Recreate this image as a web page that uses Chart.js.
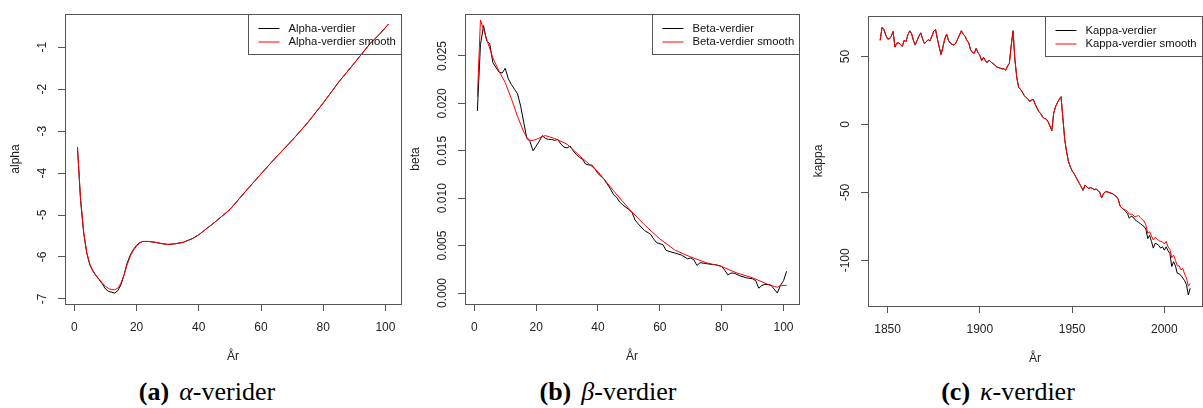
<!DOCTYPE html>
<html lang="no">
<head>
<meta charset="UTF-8">
<title>Lee-Carter parametre</title>
<script src="https://cdn.jsdelivr.net/npm/chart.js"></script>
<style>
  html, body { margin: 0; padding: 0; background: #fff; }
  body { width: 1203px; height: 408px; position: relative; overflow: hidden; }
  canvas { position: absolute; }
  .cap { position: absolute; top: 379px; width: 300px; text-align: center;
         font-family: "Liberation Serif", "DejaVu Serif", serif; font-size: 26px; line-height: 26px; color: #000; }
  .cap b { margin-right: 10px; }
</style>
</head>
<body>
<canvas id="cA" width="410" height="372" style="left:0;top:0"></canvas>
<canvas id="cB" width="409" height="372" style="left:400px;top:0"></canvas>
<canvas id="cC" width="400" height="372" style="left:803px;top:2px"></canvas>
<div class="cap" style="left:57px"><b>(a)</b><i>α</i>-verider</div>
<div class="cap" style="left:458px"><b>(b)</b><i>β</i>-verdier</div>
<div class="cap" style="left:858px"><b>(c)</b><i>κ</i>-verdier</div>

<script>
// ---- alpha ----
const alphaAge = [1,2,3,4,5,6,7,8,9,10,11,12,13,14,15,16,17,18,19,20,21,22,24,26,28,30,32,35,38,40,45,50,55,60,65,70,75,80,85,90,95,98,101];
const alphaVals = [-3.38,-4.65,-5.43,-5.91,-6.19,-6.34,-6.45,-6.54,-6.64,-6.76,-6.82,-6.84,-6.86,-6.80,-6.66,-6.42,-6.14,-5.95,-5.82,-5.72,-5.66,-5.63,-5.63,-5.65,-5.68,-5.70,-5.69,-5.65,-5.56,-5.47,-5.18,-4.87,-4.44,-4.02,-3.61,-3.22,-2.80,-2.33,-1.83,-1.38,-0.92,-0.70,-0.45];
const alphaSmooth = [-3.38,-4.60,-5.40,-5.90,-6.17,-6.33,-6.44,-6.53,-6.62,-6.70,-6.75,-6.78,-6.78,-6.74,-6.62,-6.42,-6.18,-5.98,-5.84,-5.74,-5.67,-5.63,-5.63,-5.65,-5.68,-5.70,-5.69,-5.65,-5.56,-5.47,-5.18,-4.87,-4.44,-4.02,-3.61,-3.22,-2.80,-2.33,-1.83,-1.38,-0.92,-0.70,-0.45];

// ---- beta ----
const betaAge = [1,2,3,4,5,6,7,8,9,10,11,12,13,14,15,16,17,18,19,20,21,22,23,24,25,26,27,28,29,30,31,32,33,34,35,36,37,38,39,40,42,44,45,46,47,48,50,51,52,53,55,57,58,59,61,62,63,65,67,69,70,71,72,73,75,77,78,80,81,82,83,84,86,88,90,91,92,93,94,95,96,97,98,99,100,101];
const betaVals = [0.0192,0.0262,0.0282,0.0266,0.0263,0.0243,0.0238,0.0233,0.0232,0.0237,0.0226,0.0220,0.0215,0.0210,0.0197,0.0180,0.0163,0.0160,0.0150,0.0155,0.0160,0.0166,0.0163,0.0162,0.0162,0.0161,0.0162,0.0157,0.0154,0.0153,0.0155,0.0150,0.0146,0.0143,0.0141,0.0136,0.0135,0.0135,0.0131,0.0126,0.0120,0.0110,0.0104,0.0101,0.0096,0.0093,0.0088,0.0085,0.0077,0.0073,0.0066,0.0062,0.0057,0.0053,0.0051,0.0045,0.0044,0.0042,0.0040,0.0036,0.0037,0.0035,0.0029,0.0032,0.0031,0.0030,0.0030,0.0028,0.0024,0.0019,0.0021,0.0021,0.0018,0.0016,0.0015,0.0013,0.0005,0.0008,0.0009,0.0009,0.0008,0.0004,0.0000,0.0008,0.0013,0.0023];
const betaSmoothAge = [1,2,3,4,6,8,10,12,14,16,17,18,19,20,22,23,26,30,35,40,45,50,55,60,65,70,75,80,85,90,95,97,98,99,101];
const betaSmooth = [0.0207,0.0288,0.0278,0.0268,0.0248,0.0234,0.0222,0.0205,0.0186,0.0170,0.0164,0.0161,0.0161,0.0162,0.0165,0.0166,0.0163,0.0157,0.0142,0.0128,0.0108,0.0089,0.0072,0.0057,0.0045,0.0038,0.0032,0.0028,0.0021,0.0016,0.0009,0.0007,0.0006,0.0008,0.0008];

// ---- kappa (1846-2014) ----
const kappaYears = Array.from({length: 169}, (_, i) => 1846 + i);
const kappaVals = [
  62,71.5,70,66,63,63,65,68.5,57,60,60,59,57.5,62,61,66,69,67,62,58.5,
  62,65,67.5,63,59.5,61,62.5,61.5,65,68.5,70,63,57,51.5,57,63,66.5,62,60,59,
  58.5,60,63,66,69,66.5,65,62,60,55,53,52.5,56,53,51,47,49.5,47,45.5,47.5,
  46,45,44,42.5,42,41.5,41,41,40,43,45,58,69,48,35,27.5,26,24,21.5,20,
  19,17,18,18.5,15,12,9.5,8,5.5,4.5,4,2,-1,-4.5,8,13,16,18.5,20.5,5,
  -11,-20,-27,-31,-34,-36,-38.5,-41,-43.5,-46,-48.5,-44.5,-46,-47,-46.5,-47,-48,-47.5,-48.5,-50,
  -54,-51,-49.5,-49.5,-50,-50.5,-51,-52,-53,-55,-60,-61.5,-62.5,-64,-65.5,-69,-67.5,-68,-70,-71,
  -72,-73,-74,-75,-77,-84,-81.5,-86,-91,-87.5,-88,-89,-91,-90,-92.5,-90,-93,-95,-104.5,-101,
  -104,-109.5,-110,-111,-113,-115,-118,-125.5,-120.5];
const kappaSmooth = [
  62,71.5,70,66,63,63,65,68.5,57,60,60,59,57.5,62,61,66,69,67,62,58.5,
  62,65,67.5,63,59.5,61,62.5,61.5,65,68.5,70,63,57,51.5,57,63,66.5,62,60,59,
  58.5,60,63,66,69,66.5,65,62,60,55,53,52.5,56,53,51,47,49.5,47,45.5,47.5,
  46,45,44,42.5,42,41.5,41,41,40,43,45,58,69,48,35,27.5,26,24,21.5,20,
  19,17,18,18.5,15,12,9.5,8,5.5,4.5,4,2,-1,-4.5,8,13,16,18.5,20.5,5,
  -11,-20,-27,-31,-34,-36,-38.5,-41,-43.5,-46,-48.5,-44.5,-46,-47,-46.5,-47,-48,-47.5,-48.5,-50,
  -54,-51,-49.5,-49.5,-50,-50.5,-51,-52,-53,-55,-60,-61.5,-62.5,-63,-64,-66,-66,-66.5,-68,-67.5,
  -67,-68.5,-70,-71,-74,-80,-79,-82,-85,-83,-84,-85.5,-86,-86.5,-88,-86,-90,-92,-98,-96,
  -100,-104,-104,-107,-106,-110,-113,-119,-117];

// tick values / labels
const ageTicks = [0, 20, 40, 60, 80, 100];
const yearTicks = [1850, 1900, 1950, 2000];
const alphaTicks = [-7, -6, -5, -4, -3, -2, -1];
const betaTicks = [0, 0.005, 0.010, 0.015, 0.020, 0.025];
const betaTickLabels = ['0.000', '0.005', '0.010', '0.015', '0.020', '0.025'];
const kappaTicks = [-100, -50, 0, 50];

const FONT = '"Liberation Sans", Arial, sans-serif';

const pts = (xs, ys) => xs.map((x, i) => ({x: x, y: ys[i]}));

// R-like frame, rotated y labels and boxed legend
const rStyle = {
  id: 'rStyle',
  afterDraw(chart, args, opts) {
    const {ctx, chartArea: a} = chart;
    ctx.save();
    ctx.strokeStyle = '#555';
    ctx.lineWidth = 1;
    const L = Math.round(a.left) + 0.5, T = Math.round(a.top) + 0.5;
    const R = Math.round(a.right) + 0.5, B = Math.round(a.bottom) + 0.5;
    ctx.strokeRect(L, T, R - L, B - T);

    const ys = chart.scales.y;
    ctx.fillStyle = '#222';
    ctx.font = '12px ' + FONT;
    ctx.textAlign = 'center';
    ctx.textBaseline = 'middle';
    ys.ticks.forEach((t, i) => {
      const py = ys.getPixelForValue(t.value);
      ctx.save();
      ctx.translate(a.left - 22, py);
      ctx.rotate(-Math.PI / 2);
      ctx.fillText(opts.yLabels[i], 0, 0);
      ctx.restore();
    });

    // legend
    ctx.font = '11.3px ' + FONT;
    const labels = chart.data.datasets.map(d => d.label);
    const tw = Math.max(...labels.map(s => ctx.measureText(s).width));
    const w = 10 + 21 + 9 + tw + 6, h = 40;
    const lx = Math.round(R - w) + 0.5;
    ctx.strokeStyle = '#555';
    ctx.strokeRect(lx, T, R - lx, h);
    ctx.textAlign = 'left';
    chart.data.datasets.forEach((d, i) => {
      const ry = T + 14 + i * 13.5;
      ctx.strokeStyle = d.borderColor;
      ctx.beginPath();
      ctx.moveTo(lx + 10, ry);
      ctx.lineTo(lx + 31, ry);
      ctx.stroke();
      ctx.fillStyle = '#111';
      ctx.fillText(d.label, lx + 40, ry);
    });
    ctx.restore();
  }
};

function makePanel(id, cfg) {
  new Chart(document.getElementById(id), {
    type: 'line',
    data: {
      datasets: [
        // black first, red drawn on top (higher order = further back)
        { label: cfg.names[0], data: cfg.black, borderColor: '#000', borderWidth: 1, pointRadius: 0, tension: 0, order: 2 },
        { label: cfg.names[1], data: cfg.red, borderColor: '#ff0000', borderWidth: 1, pointRadius: 0, tension: 0, order: 1 }
      ]
    },
    options: {
      responsive: false,
      animation: false,
      devicePixelRatio: 1,
      layout: { padding: { left: 0, top: 14, right: cfg.padRight, bottom: 0 } },
      plugins: {
        legend: { display: false },
        tooltip: { enabled: false },
        rStyle: { yLabels: cfg.yLabels }
      },
      scales: {
        x: {
          type: 'linear',
          min: cfg.xMin, max: cfg.xMax,
          afterBuildTicks: s => { s.ticks = cfg.xTicks.map(v => ({value: v})); },
          afterFit: s => { s.height = 68; },
          grid: { drawOnChartArea: false, drawTicks: true, tickLength: 7, color: '#555' },
          border: { display: false },
          ticks: { color: '#222', font: { family: FONT, size: 12 }, padding: 9, maxRotation: 0, autoSkip: false,
                   callback: v => String(v) },
          title: { display: true, text: 'År', color: '#222', font: { family: FONT, size: 12 }, padding: { top: 0, bottom: 8 } }
        },
        y: {
          type: 'linear',
          min: cfg.yMin, max: cfg.yMax,
          afterBuildTicks: s => { s.ticks = cfg.yTicks.map(v => ({value: v})); },
          afterFit: s => { s.width = 65; },
          grid: { drawOnChartArea: false, drawTicks: true, tickLength: 7, color: '#555' },
          border: { display: false },
          ticks: { display: false },
          title: { display: true, text: cfg.yTitle, color: '#222', font: { family: FONT, size: 12 }, padding: { top: 8, bottom: 0 } }
        }
      }
    },
    plugins: [rStyle]
  });
}

makePanel('cA', {
  names: ['Alpha-verdier', 'Alpha-verdier smooth'],
  black: pts(alphaAge, alphaVals), red: pts(alphaAge, alphaSmooth),
  xMin: -3, xMax: 105, yMin: -7.12, yMax: -0.21,
  xTicks: ageTicks, yTicks: alphaTicks, yLabels: alphaTicks.map(String),
  yTitle: 'alpha', padRight: 9
});
makePanel('cB', {
  names: ['Beta-verdier', 'Beta-verdier smooth'],
  black: pts(betaAge, betaVals), red: pts(betaSmoothAge, betaSmooth),
  xMin: -3, xMax: 105, yMin: -0.00116, yMax: 0.02943,
  xTicks: ageTicks, yTicks: betaTicks, yLabels: betaTickLabels,
  yTitle: 'beta', padRight: 10
});
makePanel('cC', {
  names: ['Kappa-verdier', 'Kappa-verdier smooth'],
  black: pts(kappaYears, kappaVals), red: pts(kappaYears, kappaSmooth),
  xMin: 1839.4, xMax: 2020.4, yMin: -133.6, yMax: 79.9,
  xTicks: yearTicks, yTicks: kappaTicks, yLabels: kappaTicks.map(String),
  yTitle: 'kappa', padRight: 1
});
</script>
</body>
</html>
